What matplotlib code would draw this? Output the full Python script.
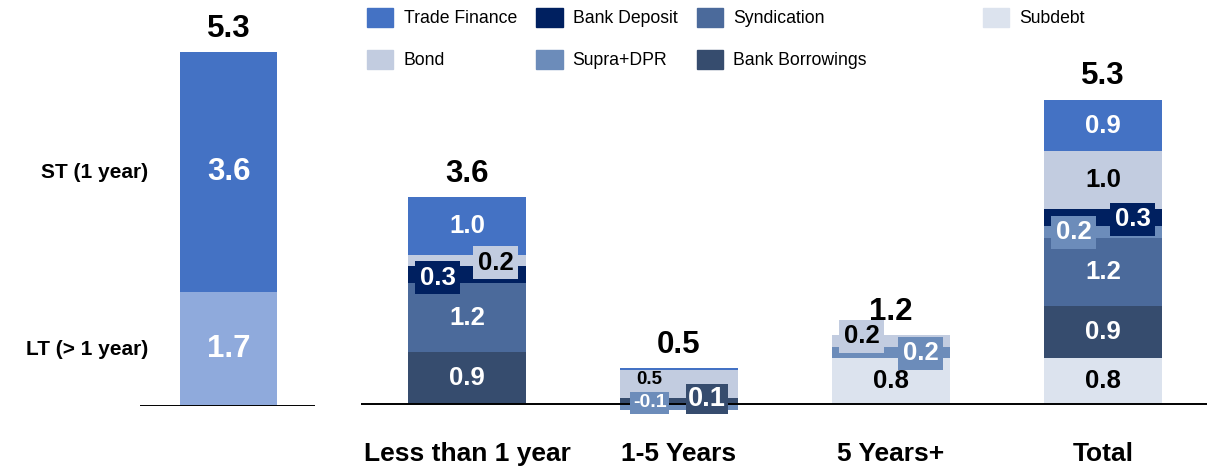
import matplotlib.pyplot as plt
from matplotlib.patches import Patch

plt.rcParams['font.family'] = ['Liberation Sans', 'DejaVu Sans']

# left panel: tenor split
tenor_labels = ['LT (> 1 year)', 'ST (1 year)']
tenor_values = [1.7, 3.6]
tenor_total = 5.3

# right panel: maturity buckets
categories = ['Less than 1 year', '1-5 Years', '5 Years+', 'Total']
subdebt = [0, 0, 0.8, 0.8]
bank_borrowings = [0.9, 0.1, 0, 0.9]
syndication = [1.2, 0, 0, 1.2]
supra_dpr = [0, -0.1, 0.2, 0.2]
bank_deposit = [0.3, 0, 0, 0.3]
bond = [0.2, 0.5, 0.2, 1.0]
trade_finance = [1.0, 0.02, 0, 0.9]
totals = [3.6, 0.5, 1.2, 5.3]

# stacking order, bottom to top
series = [
    ('Subdebt', subdebt, '#DCE3EE', 'black'),
    ('Bank Borrowings', bank_borrowings, '#364C6E', 'white'),
    ('Syndication', syndication, '#4B6A9B', 'white'),
    ('Supra+DPR', supra_dpr, '#6C8CBA', 'white'),
    ('Bank Deposit', bank_deposit, '#002060', 'white'),
    ('Bond', bond, '#C2CCE0', 'black'),
    ('Trade Finance', trade_finance, '#4472C4', 'white'),
]
tenor_colors = ['#8FAADC', '#4472C4']

# labels for thin segments: (dx, dy, fontsize, box pad or None)
small_labels = {
    (0, 'Bank Deposit'): (-0.139, -0.05, 18.5, 0.17),
    (0, 'Bond'): (0.134, -0.04, 18.5, 0.17),
    (1, 'Supra+DPR'): (-0.139, 0.07, 14, 0.12),
    (1, 'Bank Borrowings'): (0.132, 0.04, 19.5, 0.07),
    (1, 'Bond'): (-0.14, 0.085, 13.5, None),
    (2, 'Bond'): (-0.14, 0.08, 18.5, 0.17),
    (2, 'Supra+DPR'): (0.139, -0.02, 18.5, 0.17),
    (3, 'Supra+DPR'): (-0.139, -0.01, 18.5, 0.17),
    (3, 'Bank Deposit'): (0.139, -0.03, 18.5, 0.17),
}

W, H = 1209, 466
fig = plt.figure(figsize=(W / 100, H / 100), dpi=100)

# ---- left panel
axl = fig.add_axes([140 / W, 60 / H, 175 / W, 400.8 / H])
axl.set_xlim(0, 1)
axl.set_ylim(0, 6)
axl.axis('off')
bottom = 0
for lab, v, c in zip(tenor_labels, tenor_values, tenor_colors):
    axl.bar(0.506, v, width=0.554, bottom=bottom, color=c, linewidth=0)
    axl.text(0.506, bottom + v / 2, f'{v:.1f}', ha='center', va='center',
             color='white', fontsize=22.5, fontweight='bold')
    axl.text(0.046, bottom + v / 2, lab, ha='right', va='center',
             transform=axl.get_yaxis_transform(), fontsize=15, fontweight='bold')
    bottom += v
axl.annotate(f'{tenor_total:.1f}', (0.506, bottom), xytext=(0, 6),
             textcoords='offset points', ha='center', va='bottom',
             fontsize=22.5, fontweight='bold')
axl.axhline(0, color='black', lw=1.4, zorder=3)

# ---- right panel
ax = fig.add_axes([361 / W, 33.3 / H, 846 / W, 401.8 / H])
ax.set_xlim(-0.5, 3.49)
ax.set_ylim(-0.5, 6.5)
width = 0.557
pos = [0.0] * len(categories)
neg = [0.0] * len(categories)
for name, vals, color, tcolor in series:
    for i, v in enumerate(vals):
        if v == 0:
            continue
        if v > 0:
            b = pos[i]
            pos[i] += v
        else:
            b = neg[i]
            neg[i] += v
        ax.bar(i, v, width=width, bottom=b, color=color, linewidth=0)
        mid = b + v / 2
        if abs(v) < 0.05:
            continue
        key = (i, name)
        if key in small_labels:
            dx, dy, fs, pad = small_labels[key]
            box = None
            if pad is not None:
                box = dict(boxstyle=f'square,pad={pad}', fc=color, ec='none')
            ax.text(i + dx, mid + dy, f'{v:.1f}', ha='center', va='center',
                    color=tcolor, fontsize=fs, fontweight='bold', bbox=box, zorder=5)
        else:
            ax.text(i, mid, f'{v:.1f}', ha='center', va='center',
                    color=tcolor, fontsize=18.5, fontweight='bold', zorder=5)

for i, t in enumerate(totals):
    ax.annotate(f'{t:.1f}', (i, pos[i]), xytext=(0, 6), textcoords='offset points',
                ha='center', va='bottom', fontsize=22.5, fontweight='bold')

ax.axhline(0, color='black', lw=1.4, zorder=3)
ax.set_xticks(range(len(categories)))
ax.set_xticklabels(categories, fontsize=19, fontweight='bold')
ax.tick_params(axis='x', length=0, pad=7)
ax.set_yticks([])
for s in ax.spines.values():
    s.set_visible(False)

# ---- legend
colors = {name: color for name, _, color, _ in series}
order = ['Trade Finance', 'Bond', 'Bank Deposit', 'Supra+DPR', 'Syndication', 'Bank Borrowings']
leg_kw = dict(frameon=False, fontsize=12.7, handlelength=1.5, handleheight=1.27,
              handletextpad=0.57, labelspacing=1.27, borderpad=0, borderaxespad=0,
              loc='upper left')
fig.legend([Patch(color=colors[n]) for n in order], order, ncol=3, columnspacing=1.1,
           bbox_to_anchor=(367 / W, 1 - 8 / H), **leg_kw)
fig.legend([Patch(color=colors['Subdebt'])], ['Subdebt'],
           bbox_to_anchor=(983 / W, 1 - 8 / H), **leg_kw)

fig.savefig('out.png', dpi=100)
